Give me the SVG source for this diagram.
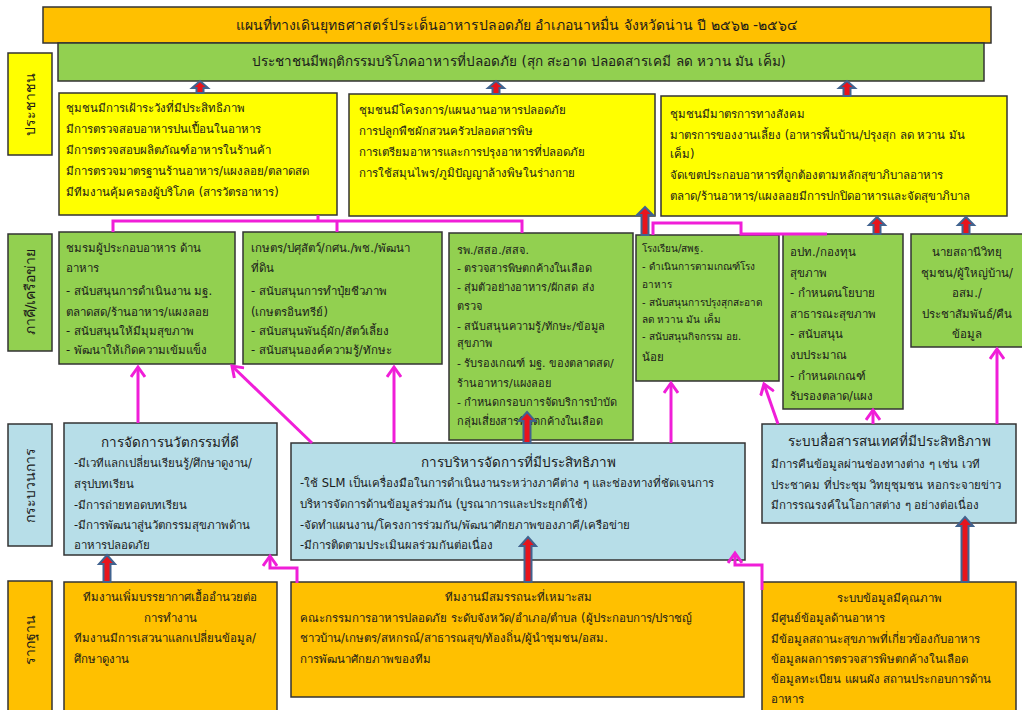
<svg xmlns="http://www.w3.org/2000/svg" width="1022" height="710" viewBox="0 0 1022 710">
<style>
text{font-family:"DejaVu Sans","Noto Sans",sans-serif;font-size:11.5px;fill:#1a1a1a}
.t{font-size:14px}
.g{font-size:13.5px}
.h{font-size:13.5px;text-anchor:middle}
.c{text-anchor:middle}
.s{font-size:10px}
.n{font-size:11px}
.box{stroke:#333;stroke-width:1.5}
.or{fill:#FFC000}
.gr{fill:#92D050}
.ye{fill:#FFFF00}
.bl{fill:#B7DEE8}
.mg{fill:none;stroke:#F01ED8;stroke-width:3}
.ma{fill:none;stroke:#F01ED8;stroke-width:3;marker-end:url(#mh)}
.ba{fill:#E8141C;stroke:#41638F;stroke-width:2;stroke-linejoin:miter}
</style>
<defs>
<marker id="mh" markerUnits="userSpaceOnUse" markerWidth="16" markerHeight="16" refX="12" refY="8" orient="auto">
<path d="M2,1 L12,8 L2,15" fill="none" stroke="#F01ED8" stroke-width="3"/>
</marker>
</defs>
<rect width="1022" height="710" fill="#fff"/>

<g id="title"><rect class="box or" x="43" y="7" width="948" height="36"/>
<text class="t" x="517" y="30" text-anchor="middle">แผนที่ทางเดินยุทธศาสตร์ประเด็นอาหารปลอดภัย อำเภอนาหมื่น จังหวัดน่าน  ปี ๒๕๖๒ -๒๕๖๔</text></g>
<g id="goal"><rect class="box gr" x="58" y="43" width="926" height="38"/>
<text class="g" x="519" y="66" text-anchor="middle">ประชาชนมีพฤติกรรมบริโภคอาหารที่ปลอดภัย (สุก สะอาด ปลอดสารเคมี ลด หวาน มัน เค็ม)</text></g>

<g id="lbl-people"><rect class="box ye" x="8" y="53" width="44" height="102"/>
<text class="t" transform="translate(35,104) rotate(-90)" text-anchor="middle">ประชาชน</text></g>
<g id="lbl-partner"><rect class="box gr" x="8" y="234" width="44" height="117"/>
<text class="t" transform="translate(35,292) rotate(-90)" text-anchor="middle">ภาคี/เครือข่าย</text></g>
<g id="lbl-process"><rect class="box bl" x="8" y="424" width="44" height="122"/>
<text class="t" transform="translate(35,485) rotate(-90)" text-anchor="middle">กระบวนการ</text></g>
<g id="lbl-base"><rect class="box or" x="8" y="581" width="44" height="135"/>
<text class="t" transform="translate(35,640) rotate(-90)" text-anchor="middle">รากฐาน</text></g>

<g id="y1"><rect class="box ye" x="59" y="93" width="278" height="122"/>
<text x="66" y="112">ชุมชนมีการเฝ้าระวังที่มีประสิทธิภาพ</text>
<text x="66" y="133">มีการตรวจสอบอาหารปนเปื้อนในอาหาร</text>
<text x="66" y="154">มีการตรวจสอบผลิตภัณฑ์อาหารในร้านค้า</text>
<text x="66" y="175">มีการตรวจมาตรฐานร้านอาหาร/แผงลอย/ตลาดสด</text>
<text x="66" y="196">มีทีมงานคุ้มครองผู้บริโภค  (สารวัตรอาหาร)</text></g>
<g id="y2"><rect class="box ye" x="349" y="94" width="306" height="122"/>
<text x="359" y="114">ชุมชนมีโครงการ/แผนงานอาหารปลอดภัย</text>
<text x="359" y="135">การปลูกพืชผักสวนครัวปลอดสารพิษ</text>
<text x="359" y="156">การเตรียมอาหารและการปรุงอาหารที่ปลอดภัย</text>
<text x="359" y="177">การใช้สมุนไพร/ภูมิปัญญาล้างพิษในร่างกาย</text></g>
<g id="y3"><rect class="box ye" x="661" y="96" width="346" height="120"/>
<text x="670" y="118">ชุมชนมีมาตรการทางสังคม</text>
<text x="670" y="139">มาตรการของงานเลี้ยง  (อาหารพื้นบ้าน/ปรุงสุก ลด หวาน มัน</text>
<text x="670" y="158">เค็ม)</text>
<text x="670" y="179">จัดเขตประกอบอาหารที่ถูกต้องตามหลักสุขาภิบาลอาหาร</text>
<text x="670" y="200">ตลาด/ร้านอาหาร/แผงลอยมีการปกปิดอาหารและจัดสุขาภิบาล</text></g>

<g id="g1"><rect class="box gr" x="59" y="232" width="176" height="132"/>
<text x="66" y="252">ชมรมผู้ประกอบอาหาร  ด้าน</text>
<text x="66" y="272">อาหาร</text>
<text x="66" y="295">- สนับสนุนการดำเนินงาน มฐ.</text>
<text x="66" y="316">ตลาดสด/ร้านอาหาร/แผงลอย</text>
<text x="66" y="335">- สนับสนุนให้มีมุมสุขภาพ</text>
<text x="66" y="354">- พัฒนาให้เกิดความเข้มแข็ง</text></g>
<g id="g2"><rect class="box gr" x="243" y="232" width="199" height="132"/>
<text x="251" y="252">เกษตร/ปศุสัตว์/กศน./พช./พัฒนา</text>
<text x="251" y="272">ที่ดิน</text>
<text x="251" y="295"> - สนับสนุนการทำปุ๋ยชีวภาพ</text>
<text x="251" y="316">(เกษตรอินทรีย์)</text>
<text x="251" y="335"> - สนับสนุนพันธุ์ผัก/สัตว์เลี้ยง</text>
<text x="251" y="354">- สนับสนุนองค์ความรู้/ทักษะ</text></g>
<g id="g3"><rect class="box gr" x="449" y="233" width="184" height="207"/>
<text class="n" x="457" y="254">รพ./สสอ./สสจ.</text>
<text class="n" x="457" y="272"> -  ตรวจสารพิษตกค้างในเลือด</text>
<text class="n" x="457" y="291"> - สุ่มตัวอย่างอาหาร/ผักสด ส่ง</text>
<text class="n" x="457" y="310">ตรวจ</text>
<text class="n" x="457" y="330">- สนับสนุนความรู้/ทักษะ/ข้อมูล</text>
<text class="n" x="457" y="347">สุขภาพ</text>
<text class="n" x="457" y="367">- รับรองเกณฑ์ มฐ. ของตลาดสด/</text>
<text class="n" x="457" y="387">ร้านอาหาร/แผงลอย</text>
<text class="n" x="457" y="406"> - กำหนดกรอบการจัดบริการบำบัด</text>
<text class="n" x="457" y="425">กลุ่มเสี่ยงสารพิษตกค้างในเลือด</text></g>
<g id="g4"><rect class="box gr" x="636" y="235" width="143" height="146"/>
<text class="s" x="642" y="252">โรงเรียน/สพฐ.</text>
<text class="s" x="642" y="270"> - ดำเนินการตามเกณฑ์โรง</text>
<text class="s" x="642" y="288">อาหาร</text>
<text class="s" x="642" y="306"> - สนับสนุนการปรุงสุกสะอาด</text>
<text class="s" x="642" y="323">ลด หวาน  มัน เค็ม</text>
<text class="s" x="642" y="340">  - สนับสนุนกิจกรรม อย.</text>
<text x="642" y="361">น้อย</text></g>
<g id="g5"><rect class="box gr" x="783" y="234" width="120" height="175"/>
<text x="790" y="256">อปท./กองทุน</text>
<text x="790" y="277">สุขภาพ</text>
<text x="790" y="297">- กำหนดนโยบาย</text>
<text x="790" y="318">สาธารณะสุขภาพ</text>
<text x="790" y="338">- สนับสนุน</text>
<text x="790" y="359">งบประมาณ</text>
<text x="790" y="380"> - กำหนดเกณฑ์</text>
<text x="790" y="400">รับรองตลาด/แผง</text></g>
<g id="g6"><rect class="box gr" x="911" y="234" width="116" height="113"/>
<text class="c" x="967" y="256">นายสถานีวิทยุ</text>
<text class="c" x="967" y="277">ชุมชน/ผู้ใหญ่บ้าน/</text>
<text class="c" x="967" y="297">อสม./</text>
<text class="c" x="967" y="318">ประชาสัมพันธ์/คืน</text>
<text class="c" x="967" y="338">ข้อมูล</text></g>

<g id="b1"><rect class="box bl" x="64" y="423" width="213" height="132"/>
<text class="h" x="170" y="447">การจัดการนวัตกรรมที่ดี</text>
<text x="74" y="467">-มีเวทีแลกเปลี่ยนเรียนรู้/ศึกษาดูงาน/</text>
<text x="74" y="488">สรุปบทเรียน</text>
<text x="74" y="509">-มีการถ่ายทอดบทเรียน</text>
<text x="74" y="529">-มีการพัฒนาสู่นวัตกรรมสุขภาพด้าน</text>
<text x="74" y="549">อาหารปลอดภัย</text></g>
<g id="b2"><rect class="box bl" x="291" y="443" width="454" height="117"/>
<text class="h" x="518" y="467">การบริหารจัดการที่มีประสิทธิภาพ</text>
<text x="300" y="487">-ใช้ SLM เป็นเครื่องมือในการดำเนินงานระหว่างภาคีต่าง ๆ และช่องทางที่ชัดเจนการ</text>
<text x="300" y="508">บริหารจัดการด้านข้อมูลร่วมกัน  (บูรณาการและประยุกต์ใช้)</text>
<text x="300" y="529">-จัดทำแผนงาน/โครงการร่วมกัน/พัฒนาศักยภาพของภาคี/เครือข่าย</text>
<text x="300" y="549">-มีการติดตามประเมินผลร่วมกันต่อเนื่อง</text></g>
<g id="b3"><rect class="box bl" x="762" y="424" width="254" height="99"/>
<text class="h" x="889" y="446">ระบบสื่อสารสนเทศที่มีประสิทธิภาพ</text>
<text x="771" y="468">มีการคืนข้อมูลผ่านช่องทางต่าง  ๆ เช่น เวที</text>
<text x="771" y="489">ประชาคม  ที่ประชุม  วิทยุชุมชน หอกระจายข่าว</text>
<text x="771" y="509">มีการรณรงค์ในโอกาสต่าง  ๆ อย่างต่อเนื่อง</text></g>

<g id="r1"><rect class="box or" x="64" y="582" width="213" height="140"/>
<text class="c" x="170" y="601">ทีมงานเพิ่มบรรยากาศเอื้ออำนวยต่อ</text>
<text class="c" x="170" y="622">การทำงาน</text>
<text x="74" y="642">ทีมงานมีการเสวนาแลกเปลี่ยนข้อมูล/</text>
<text x="74" y="663">ศึกษาดูงาน</text></g>
<g id="r2"><rect class="box or" x="291" y="582" width="453" height="115"/>
<text class="c" x="518" y="601">ทีมงานมีสมรรถนะที่เหมาะสม</text>
<text x="300" y="622">คณะกรรมการอาหารปลอดภัย  ระดับจังหวัด/อำเภอ/ตำบล (ผู้ประกอบการ/ปราชญ์</text>
<text x="300" y="642">ชาวบ้าน/เกษตร/สหกรณ์/สาธารณสุข/ท้องถิ่น/ผู้นำชุมชน/อสม.</text>
<text x="300" y="663">การพัฒนาศักยภาพของทีม</text></g>
<g id="r3"><rect class="box or" x="762" y="582" width="254" height="140"/>
<text class="c" x="889" y="602">ระบบข้อมูลมีคุณภาพ</text>
<text x="771" y="622">มีศูนย์ข้อมูลด้านอาหาร</text>
<text x="771" y="643">มีข้อมูลสถานะสุขภาพที่เกี่ยวข้องกับอาหาร</text>
<text x="771" y="663">ข้อมูลผลการตรวจสารพิษตกค้างในเลือด</text>
<text x="771" y="683">ข้อมูลทะเบียน แผนผัง สถานประกอบการด้าน</text>
<text x="771" y="703">อาหาร</text></g>

<g id="connectors">
<path class="mg" d="M318,215 V221 M113,232 V221 H522 V233 M337,221 V232"/>
<path class="mg" d="M653,235 V223 H741 V234 H827"/>
<path class="ma" d="M138,423 V367"/>
<path class="ma" d="M312,443 L232,366"/>
<path class="ma" d="M394,443 V367"/>
<path class="ma" d="M671,443 V383"/>
<path class="ma" d="M778,424 L764,384"/>
<path class="ma" d="M873,424 V410"/>
<path class="ma" d="M997,424 V349"/>
<path class="ma" d="M297,583 V568 H270 V556"/>
<path class="ma" d="M762,590 V565 H735 V553"/>
<path class="ba" d="M200,81 L208,88 L203.5,88 L203.5,93 L196.5,93 L196.5,88 L192,88 Z"/>
<path class="ba" d="M496,81 L504,88 L499.5,88 L499.5,94 L492.5,94 L492.5,88 L488,88 Z"/>
<path class="ba" d="M847,81 L855,88 L850.5,88 L850.5,96 L843.5,96 L843.5,88 L839,88 Z"/>
<path class="ba" d="M645,207 L653,215 L648.5,215 L648.5,235 L641.5,235 L641.5,215 L637,215 Z"/>
<path class="ba" d="M877,217 L885,225 L880.5,225 L880.5,234 L873.5,234 L873.5,225 L869,225 Z"/>
<path class="ba" d="M966,217 L974,225 L969.5,225 L969.5,234 L962.5,234 L962.5,225 L958,225 Z"/>
<path class="ba" d="M527,412 L535,421 L530.5,421 L530.5,443 L523.5,443 L523.5,421 L519,421 Z"/>
<path class="ba" d="M528,537 L536,546 L531.5,546 L531.5,582 L524.5,582 L524.5,546 L520,546 Z"/>
<path class="ba" d="M965,517 L973,526 L968.5,526 L968.5,582 L961.5,582 L961.5,526 L957,526 Z"/>
<path class="ba" d="M107,555 L115,564 L110.5,564 L110.5,582 L103.5,582 L103.5,564 L99,564 Z"/>
</g>
</svg>
